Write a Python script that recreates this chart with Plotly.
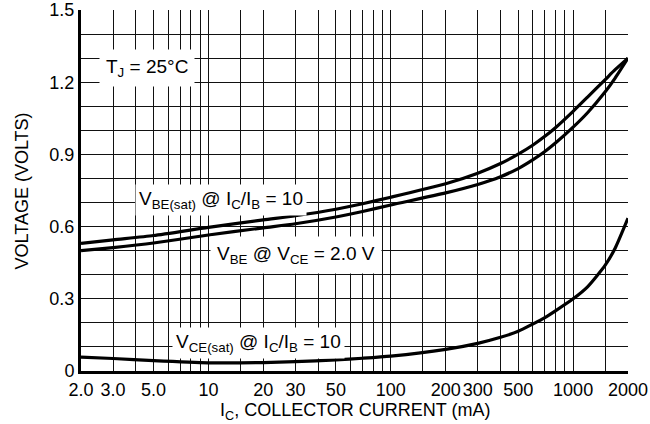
import math
import plotly.graph_objects as go

# ---- data ----
ic_ma = [2, 3, 5, 10, 20, 30, 50, 70, 100, 200, 300, 400, 500, 600, 700, 800, 1000, 1200, 1500, 1700, 2000]
vbe_sat = [0.53, 0.545, 0.563, 0.597, 0.628, 0.645, 0.672, 0.695, 0.722, 0.778, 0.822, 0.862, 0.901,
           0.938, 0.975, 1.011, 1.079, 1.138, 1.211, 1.252, 1.30]
vbe_on = [0.50, 0.513, 0.532, 0.565, 0.595, 0.612, 0.64, 0.663, 0.69, 0.74, 0.775, 0.8075, 0.841,
          0.877, 0.912, 0.947, 1.013, 1.073, 1.16, 1.217, 1.30]
vce_sat = [0.058, 0.052, 0.043, 0.034, 0.035, 0.039, 0.046, 0.053, 0.062, 0.09, 0.115, 0.14, 0.165,
           0.195, 0.222, 0.25, 0.30, 0.35, 0.44, 0.51, 0.635]

x_grid = [2, 3, 4, 5, 6, 7, 8, 9, 10, 15, 20, 30, 40, 50, 60, 70, 80, 90,
          100, 150, 200, 300, 400, 500, 600, 700, 800, 900, 1000, 1500, 2000]
x_labels = {2: "2.0", 3: "3.0", 5: "5.0", 10: "10", 20: "20", 30: "30", 50: "50",
            100: "100", 200: "200", 300: "300", 500: "500", 1000: "1000", 2000: "2000"}
y_grid = [i / 10 for i in range(16)]
y_labels = {0.0: "0", 0.3: "0.3", 0.6: "0.6", 0.9: "0.9", 1.2: "1.2", 1.5: "1.5"}

FONT = "Liberation Sans, Arial, Helvetica, sans-serif"

fig = go.Figure()
for ys in (vbe_sat, vbe_on, vce_sat):
    fig.add_trace(go.Scatter(x=ic_ma, y=ys, mode="lines",
                             line=dict(color="black", width=3.2, shape="spline", smoothing=0.6),
                             showlegend=False, hoverinfo="skip"))

labels = [
    ("T<sub>J</sub> = 25°C", 4.58, 1.261, 6),
    ("V<sub>BE(sat)</sub> @ I<sub>C</sub>/I<sub>B</sub> = 10", 11.65, 0.710, 3),
    ("V<sub>BE</sub> @ V<sub>CE</sub> = 2.0 V", 30.2, 0.484, 6),
    ("V<sub>CE(sat)</sub> @ I<sub>C</sub>/I<sub>B</sub> = 10", 18.9, 0.116, 3),
]
for txt, xv, yv, pad in labels:
    fig.add_annotation(x=math.log10(xv), y=yv, xref="x", yref="y", text=txt,
                       showarrow=False, bgcolor="white", borderpad=pad,
                       font=dict(family=FONT, size=19, color="black"))

# axis titles
fig.add_annotation(x=0.501, y=-0.111, xref="paper", yref="paper",
                   text="I<sub>C</sub>, COLLECTOR CURRENT (mA)", showarrow=False,
                   xanchor="center", yanchor="middle",
                   font=dict(family=FONT, size=18, color="black"))
fig.add_annotation(x=-0.108, y=0.5, xref="paper", yref="paper",
                   text="VOLTAGE (VOLTS)", showarrow=False, textangle=-90,
                   xanchor="center", yanchor="middle",
                   font=dict(family=FONT, size=18, color="black"))

fig.update_xaxes(type="log", range=[math.log10(2), math.log10(2000)],
                 tickmode="array", tickvals=x_grid,
                 ticktext=[x_labels.get(v, "") for v in x_grid],
                 showgrid=True, gridcolor="#111", gridwidth=1.3,
                 showline=True, linecolor="black", linewidth=3,
                 ticks="", ticklen=0, automargin=False,
                 tickfont=dict(family=FONT, size=18, color="black"),
                 zeroline=False)
fig.update_yaxes(range=[0, 1.5], tickmode="array", tickvals=y_grid,
                 ticktext=[y_labels.get(round(v, 1), "") for v in y_grid],
                 showgrid=True, gridcolor="#111", gridwidth=1.3,
                 showline=True, linecolor="black", linewidth=3,
                 ticks="", ticklen=0, automargin=False,
                 tickfont=dict(family=FONT, size=18, color="black"),
                 zeroline=False)

fig.update_layout(width=650, height=424, margin=dict(l=81, r=22, t=10, b=53),
                  plot_bgcolor="white", paper_bgcolor="white",
                  font=dict(family=FONT, size=18, color="black"))

fig.write_html("out.html", config={"displayModeBar": False},
               post_script="document.body.style.margin='0';")
